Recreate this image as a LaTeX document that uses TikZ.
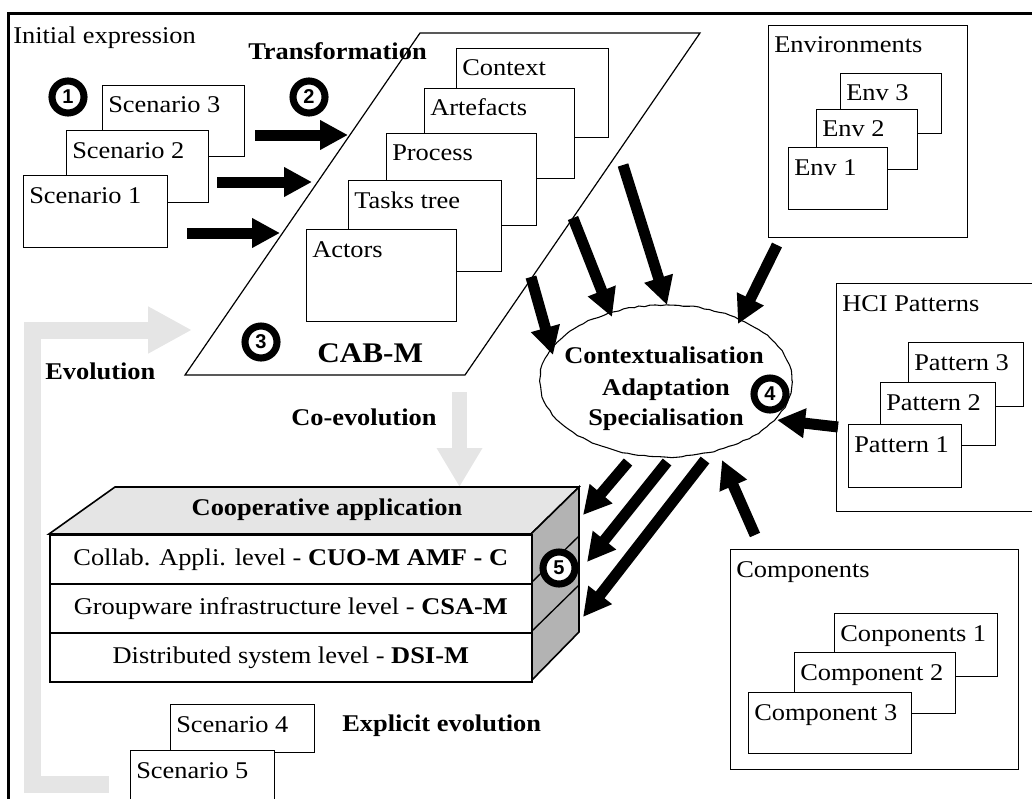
\documentclass[tikz,border=0pt]{standalone}
\usepackage{fontspec}
\setmainfont{Liberation Serif}[FakeStretch=1.1]
\newfontfamily\numfont{Liberation Sans}
\usetikzlibrary{arrows.meta,shapes.geometric,decorations.pathmorphing}
\definecolor{lightgrey}{RGB}{229,229,229}
\definecolor{sidegrey}{RGB}{179,179,179}
\def\PX{0.75pt}
% a card: name, x, y (top left), width, height, caption
\newcommand\card[6]{%
  \node[card, minimum width=#4*\PX, minimum height=#5*\PX,
        label={[txt, xshift=6*\PX, yshift=-28*\PX]north west:#6}] (#1) at (#2,#3) {};}
\begin{document}
\begin{tikzpicture}[x=0.75pt, y=-0.75pt,
  txt/.style={font=\fontsize{18}{22}\selectfont, inner sep=0pt, anchor=base west},
  btxt/.style={txt, font=\fontsize{18}{22}\selectfont\bfseries},
  card/.style={draw, line width=1.1pt, fill=white, anchor=north west, inner sep=0pt},
  frame/.style={line width=2.25pt},
  bigarrow/.style={line width=8.25pt, -{Triangle[length=21pt,width=21pt]}},
  evo/.style={draw=lightgrey, line width=12.75pt, line join=miter, -{Triangle[length=33pt,width=33pt]}},
  coevo/.style={draw=lightgrey, line width=11.25pt, -{Triangle[length=29.25pt,width=32.25pt]}},
  num/.style={circle, draw, line width=5.3pt, fill=white, minimum size=24pt, inner sep=0pt,
              font={\numfont\bfseries\fontsize{15}{15}\selectfont}},
  layer/.style={draw, line width=1.2pt, fill=white, anchor=north west, inner sep=0pt,
                minimum width=482*\PX, minimum height=49*\PX,
                font=\fontsize{18}{22}\selectfont, text height=12.6pt, text depth=4pt},
]
\useasboundingbox (0,0) rectangle (1032,799);
\clip (0,0) rectangle (1032,799);

% outer frame (only its top and left sides show)
\draw[frame] (1045,14) -- (8,14) -- (8,815);

% grey evolution arrows
\coordinate (evoStart) at (109,784.5);
\coordinate (evoCorner) at (32.5,784.5);
\coordinate (evoTip) at (192,330);
\draw[evo] (evoStart) -- (evoCorner) |- (evoTip);
\coordinate (coevoTop) at (459.5,392);
\coordinate (coevoTip) at (459.5,487);
\draw[coevo] (coevoTop) -- (coevoTip);

% initial expression
\node[txt] (initial) at (13,44) {Initial expression};
\card{sc3}{102}{85}{142}{71}{Scenario 3}
\card{sc2}{66}{130}{142}{72}{Scenario 2}
\card{sc1}{23}{175}{144}{72}{Scenario 1}

% CAB-M parallelogram
\draw[line width=0.9pt] (420,33) -- (700,33) -- (465,375) -- (185,375) -- cycle;
\card{context}{456}{48}{152}{89}{Context}
\card{artefacts}{424}{88}{150}{90}{Artefacts}
\card{process}{386}{133}{150}{92}{Process}
\card{tasks}{348}{180}{153}{91}{Tasks tree}
\card{actors}{306}{229}{150}{92}{Actors}
\node[btxt] (transf) at (248,60) {Transformation};
\node[txt, font=\fontsize{21.3}{24}\selectfont\bfseries] (cabm) at (317,362) {CAB-M};

% transformation arrows
\coordinate (t1s) at (255,135); \coordinate (t1e) at (348,135);
\coordinate (t2s) at (217,182); \coordinate (t2e) at (312,182);
\coordinate (t3s) at (187,233); \coordinate (t3e) at (280,233);
\draw[bigarrow] (t1s) -- (t1e);
\draw[bigarrow] (t2s) -- (t2e);
\draw[bigarrow] (t3s) -- (t3e);

% environments
\card{envs}{768}{25}{199}{212}{Environments}
\card{env3}{840}{73}{101}{60}{Env 3}
\card{env2}{816}{109}{101}{60}{Env 2}
\card{env1}{788}{147}{99}{62}{Env 1}

% HCI patterns
\card{hci}{836}{283}{220}{228}{HCI Patterns}
\card{pat3}{908}{342}{115}{64}{Pattern 3}
\card{pat2}{880}{382}{115}{63}{Pattern 2}
\card{pat1}{848}{424}{113}{63}{Pattern 1}

% components
\card{comps}{730}{549}{288}{220}{Components}
\card{comp1}{834}{613}{163}{63}{Conponents 1}
\card{comp2}{794}{652}{161}{61}{Component 2}
\card{comp3}{748}{692}{163}{61}{Component 3}

% contextualisation ellipse
\pgfmathsetseed{7}
\node[ellipse, draw, fill=white, line width=0.8pt, minimum width=252*\PX, minimum height=152*\PX,
      decorate, decoration={random steps, segment length=4pt, amplitude=0.5pt}] (ctx) at (666,381) {};
\node[btxt, anchor=base] (ctx1) at (664,363) {Contextualisation};
\node[btxt, anchor=base] (ctx2) at (666,395) {Adaptation};
\node[btxt, anchor=base] (ctx3) at (666,425) {Specialisation};

% arrows into the ellipse
\coordinate (b1s) at (531,277); \coordinate (b1e) at (553,355);
\coordinate (b2s) at (573,218); \coordinate (b2e) at (612,317);
\coordinate (b3s) at (623,165); \coordinate (b3e) at (667,305);
\coordinate (b4s) at (777,245); \coordinate (b4e) at (738,324);
\coordinate (b5s) at (838,427); \coordinate (b5e) at (777,420);
\coordinate (b6s) at (755,535); \coordinate (b6e) at (722,460);
\foreach \i in {1,...,6} {\draw[bigarrow] (b\i s) -- (b\i e);}

% cooperative application block
\path[draw, line width=1.2pt, fill=lightgrey] (49,534) -- (115,487) -- (579,487) -- (531,534) -- cycle;
\path[draw, line width=1.2pt, fill=sidegrey] (531,534) -- (579,487) -- (579,632) -- (531,681) -- cycle;
\draw[line width=1pt] (531,583) -- (579,536);
\draw[line width=1pt] (531,632) -- (579,585);
\node[layer] (layer1) at (49,534) {Collab. Appli. level - \textbf{CUO-M AMF - C}};
\node[layer] (layer2) at (49,583) {Groupware infrastructure level - \textbf{CSA-M}};
\node[layer] (layer3) at (49,632) {Distributed system level - \textbf{DSI-M}};
\node[btxt, anchor=base] (coop) at (327,515) {Cooperative application};

% arrows from the ellipse to the block
\coordinate (c1s) at (628,462); \coordinate (c1e) at (583,515);
\coordinate (c2s) at (667,462); \coordinate (c2e) at (587,562);
\coordinate (c3s) at (705,460); \coordinate (c3e) at (583,617);
\foreach \i in {1,2,3} {\draw[bigarrow] (c\i s) -- (c\i e);}

% evolution labels and new scenarios
\node[btxt] (evol) at (45,379) {Evolution};
\node[btxt] (coevol) at (291,425) {Co-evolution};
\node[btxt] (explicit) at (342,731) {Explicit evolution};
\card{sc4}{170}{704}{144}{48}{Scenario 4}
\card{sc5}{130}{750}{144}{70}{Scenario 5}

% step numbers
\node[num] (n1) at (68,97) {1};
\node[num] (n2) at (309,97) {2};
\node[num] (n3) at (261,342) {3};
\node[num] (n4) at (770,394) {4};
\node[num] (n5) at (559,568) {5};
\end{tikzpicture}
\end{document}
